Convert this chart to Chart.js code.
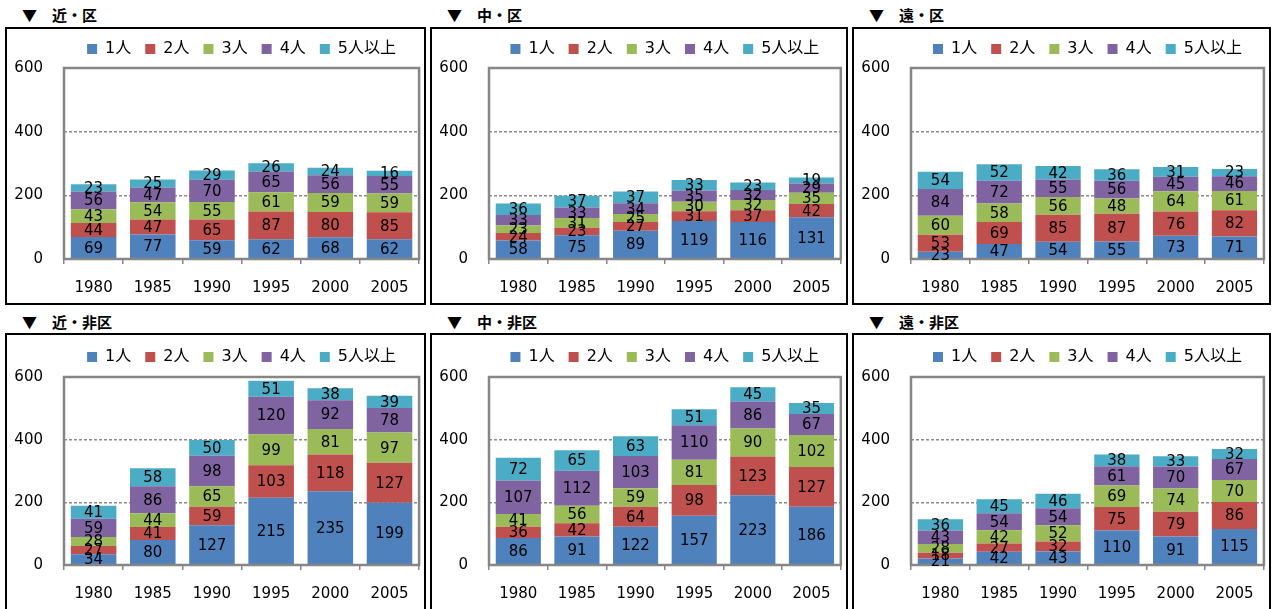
<!DOCTYPE html>
<html><head><meta charset="utf-8">
<script src="https://cdn.jsdelivr.net/npm/chart.js@4.4.1/dist/chart.umd.min.js"></script>
<style>
html,body{margin:0;padding:0;}
body{width:1272px;height:609px;overflow:hidden;background:#fff;position:relative;}
.box{position:absolute;border:2px solid #000;box-sizing:border-box;}
.ttl{position:absolute;font:bold 15px "Noto Sans CJK JP",sans-serif;white-space:pre;line-height:16px;color:#000;}
canvas{position:absolute;}
</style></head><body>
<script>
// ---- data ----
const categories = ['1980', '1985', '1990', '1995', '2000', '2005'];
const seriesNames = ['1人', '2人', '3人', '4人', '5人以上'];
const yTickValues = [0, 200, 400, 600];
const panelTitles = ['近・区', '中・区', '遠・区', '近・非区', '中・非区', '遠・非区'];

// rows: 1人, 2人, 3人, 4人, 5人以上 ; columns follow categories
const kinKu = [
  [69, 77, 59, 62, 68, 62],
  [44, 47, 65, 87, 80, 85],
  [43, 54, 55, 61, 59, 59],
  [56, 47, 70, 65, 56, 55],
  [23, 25, 29, 26, 24, 16]
];
const nakaKu = [
  [58, 75, 89, 119, 116, 131],
  [24, 23, 27, 31, 37, 42],
  [23, 31, 25, 30, 32, 35],
  [33, 33, 34, 35, 32, 29],
  [36, 37, 37, 33, 23, 19]
];
const tooKu = [
  [23, 47, 54, 55, 73, 71],
  [53, 69, 85, 87, 76, 82],
  [60, 58, 56, 48, 64, 61],
  [84, 72, 55, 56, 45, 46],
  [54, 52, 42, 36, 31, 23]
];
const kinHiku = [
  [34, 80, 127, 215, 235, 199],
  [27, 41, 59, 103, 118, 127],
  [28, 44, 65, 99, 81, 97],
  [59, 86, 98, 120, 92, 78],
  [41, 58, 50, 51, 38, 39]
];
const nakaHiku = [
  [86, 91, 122, 157, 223, 186],
  [36, 42, 64, 98, 123, 127],
  [41, 56, 59, 81, 90, 102],
  [107, 112, 103, 110, 86, 67],
  [72, 65, 63, 51, 45, 35]
];
const tooHiku = [
  [21, 42, 43, 110, 91, 115],
  [18, 27, 32, 75, 79, 86],
  [28, 42, 52, 69, 74, 70],
  [43, 54, 54, 61, 70, 67],
  [36, 45, 46, 38, 33, 32]
];
const panelData = [kinKu, nakaKu, tooKu, kinHiku, nakaHiku, tooHiku];

// ---- styles / layout ----
const seriesColors = ['#4F81BD', '#C0504D', '#9BBB59', '#8064A2', '#4BACC6'];
const cols = [{L: 5, W: 421}, {L: 430, W: 418}, {L: 852, W: 419}];
const rows = [
  {boxTop: 27, boxH: 278, titleY: 7, canvasTop: 27, canvasH: 276, extra: 1},
  {boxTop: 333, boxH: 290, titleY: 314, canvasTop: 335, canvasH: 274, extra: 2}
];
const FONT = '"DejaVu Sans","Noto Sans CJK JP",sans-serif';

const legendGap = {
  id: 'legendGap',
  beforeLayout(chart, args, opts) {
    const lg = chart.legend;
    if (lg && !lg.__patched) {
      const orig = lg.fit;
      lg.fit = function () { orig.apply(this, arguments); this.height += (opts.extra || 0); };
      lg.__patched = true;
    }
  }
};

const barLabels = {
  id: 'barLabels',
  afterDatasetsDraw(chart, args, opts) {
    const ctx = chart.ctx;
    const a = chart.chartArea;
    ctx.save();
    ctx.strokeStyle = '#868686';
    ctx.lineWidth = 2.5;
    ctx.strokeRect(a.left, a.top, a.right - a.left, a.bottom - a.top);
    ctx.font = '15px ' + FONT;
    ctx.fillStyle = '#000';
    ctx.textAlign = 'center';
    ctx.textBaseline = 'middle';
    chart.data.datasets.forEach((ds, di) => {
      const meta = chart.getDatasetMeta(di);
      meta.data.forEach((bar, i) => {
        ctx.fillText(String(ds.data[i]), bar.x, (bar.y + bar.base) / 2 + 1);
      });
    });
    ctx.restore();
  }
};

panelData.forEach((data, p) => {
  const c = cols[p % 3], r = rows[Math.floor(p / 3)];
  const box = document.createElement('div');
  box.className = 'box';
  Object.assign(box.style, {left: c.L + 'px', top: r.boxTop + 'px', width: c.W + 'px', height: r.boxH + 'px'});
  document.body.appendChild(box);

  const t = document.createElement('div');
  t.className = 'ttl';
  t.textContent = '▼　' + panelTitles[p];
  Object.assign(t.style, {left: (c.L + 17) + 'px', top: r.titleY + 'px'});
  document.body.appendChild(t);

  const cv = document.createElement('canvas');
  const w = c.W - 4, h = r.canvasH;
  cv.width = w; cv.height = h;
  Object.assign(cv.style, {left: (c.L + 2) + 'px', top: r.canvasTop + 'px', width: w + 'px', height: h + 'px'});
  document.body.appendChild(cv);

  new Chart(cv.getContext('2d'), {
    type: 'bar',
    data: {
      labels: categories,
      datasets: seriesNames.map((name, s) => ({
        label: name,
        data: data[s],
        backgroundColor: seriesColors[s],
        borderWidth: 0,
        categoryPercentage: 1,
        barPercentage: 0.77
      }))
    },
    options: {
      responsive: false,
      animation: false,
      devicePixelRatio: 1,
      layout: {padding: {top: 0, right: 3, bottom: 0, left: 0}},
      scales: {
        x: {
          stacked: true,
          grid: {offset: true, drawOnChartArea: false, drawTicks: true, tickLength: 5, color: '#868686', lineWidth: 1.5},
          border: {display: false},
          ticks: {color: '#000', font: {family: FONT, size: 15}, padding: 15, maxRotation: 0},
          afterFit(s) { s.height = 44; }
        },
        y: {
          stacked: true,
          min: 0, max: 600,
          afterBuildTicks(s) { s.ticks = yTickValues.map(v => ({value: v})); },
          grid: {
            drawTicks: false,
            color: ctx => (ctx.tick && (ctx.tick.value === 200 || ctx.tick.value === 400)) ? '#8a8a8a' : 'rgba(0,0,0,0)',
            lineWidth: 1.5
          },
          border: {display: false, dash: [3, 2]},
          ticks: {color: '#000', font: {family: FONT, size: 15}, padding: 21},
          afterFit(s) { s.width = 57; }
        }
      },
      plugins: {
        legend: {
          position: 'top',
          fullSize: false,
          labels: {boxWidth: 10, boxHeight: 10, padding: 14, color: '#000', font: {family: FONT, size: 16}}
        },
        tooltip: {enabled: false},
        legendGap: {extra: r.extra}
      }
    },
    plugins: [legendGap, barLabels]
  });
});
</script>
</body></html>
